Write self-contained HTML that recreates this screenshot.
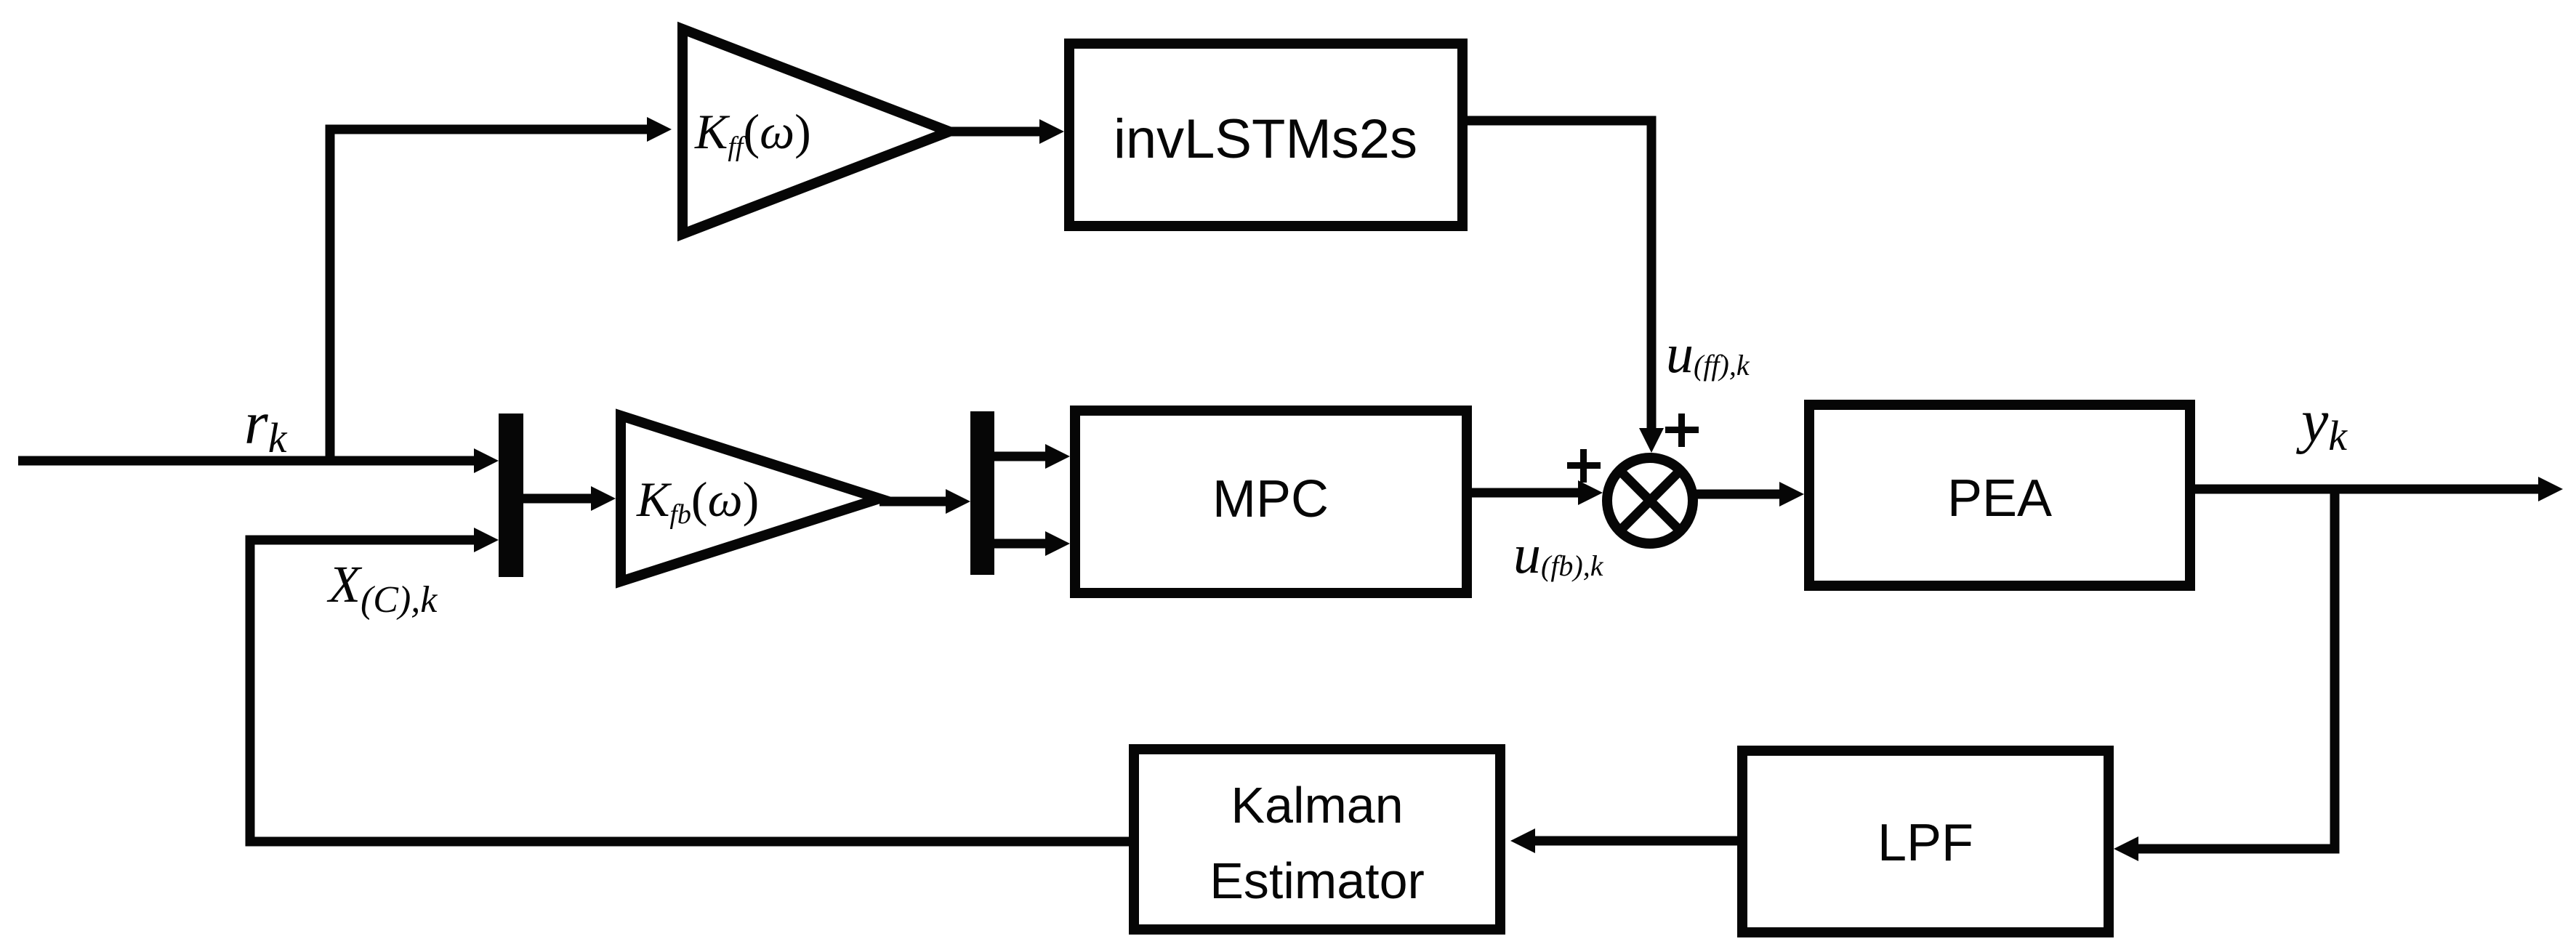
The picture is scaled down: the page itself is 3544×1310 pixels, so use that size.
<!DOCTYPE html>
<html><head><meta charset="utf-8"><style>
html,body{margin:0;padding:0;background:#fff;}
svg{display:block;}
.box{fill:none;stroke:#060606;stroke-width:14;}
.ln{fill:none;stroke:#060606;stroke-width:13;}
.sans{font-family:"Liberation Sans",sans-serif;fill:#060606;}
.m{font-family:"Liberation Serif",serif;font-style:italic;fill:#060606;}
</style></head><body>
<svg width="3544" height="1310" viewBox="0 0 3544 1310" xmlns="http://www.w3.org/2000/svg">
<g fill="#060606">
<line class="ln" x1="25" y1="634" x2="655" y2="634"/>
<polygon points="686,634 652,617 652,651"/>
<path class="ln" d="M454,640 V178 H895"/>
<polygon points="924,178 890,161 890,195"/>
<polygon class="box" points="939,40 939,322 1306,181"/>
<line class="ln" x1="1306" y1="181" x2="1435" y2="181"/>
<polygon points="1464,181 1430,164 1430,198"/>
<rect class="box" x="1471" y="60" width="541" height="251"/>
<path class="ln" d="M2019,166 H2272 V592"/>
<polygon points="2272,623 2255,589 2289,589"/>
<rect x="686" y="569" width="34" height="225"/>
<line class="ln" x1="720" y1="686" x2="815" y2="686"/>
<polygon points="847,686 813,669 813,703"/>
<polygon class="box" points="854,572 854,800 1210,686"/>
<line class="ln" x1="1210" y1="690" x2="1305" y2="690"/>
<polygon points="1335,690 1301,673 1301,707"/>
<rect x="1335" y="566" width="33" height="225"/>
<line class="ln" x1="1368" y1="628" x2="1442" y2="628"/>
<polygon points="1472,628 1438,611 1438,645"/>
<line class="ln" x1="1368" y1="748" x2="1442" y2="748"/>
<polygon points="1472,748 1438,731 1438,765"/>
<rect class="box" x="1479" y="565" width="539" height="251"/>
<line class="ln" x1="2025" y1="678" x2="2175" y2="678"/>
<polygon points="2205,678 2171,661 2171,695"/>
<circle class="box" cx="2270" cy="689" r="59" stroke-width="12"/>
<line class="ln" x1="2228" y1="647" x2="2312" y2="731" stroke-width="11"/>
<line class="ln" x1="2312" y1="647" x2="2228" y2="731" stroke-width="11"/>
<line class="ln" x1="2330" y1="680" x2="2452" y2="680"/>
<polygon points="2482,680 2448,663 2448,697"/>
<rect class="box" x="2489" y="557" width="524" height="249"/>
<line class="ln" x1="3020" y1="673" x2="3495" y2="673"/>
<polygon points="3526,673 3492,656 3492,690"/>
<path class="ln" d="M3212,673 V1168 H2938"/>
<polygon points="2908,1168 2942,1151 2942,1185"/>
<rect class="box" x="2397" y="1033" width="504" height="250"/>
<line class="ln" x1="2390" y1="1157" x2="2110" y2="1157"/>
<polygon points="2078,1157 2112,1140 2112,1174"/>
<rect class="box" x="1560" y="1031" width="504" height="248"/>
<path class="ln" d="M1553,1158 H344 V743 H655"/>
<polygon points="686,743 652,726 652,760"/>
</g>
<text class="sans" x="1741" y="217" font-size="76" text-anchor="middle">invLSTMs2s</text>
<text class="sans" x="1748" y="711" font-size="72" text-anchor="middle">MPC</text>
<text class="sans" x="2751" y="710" font-size="72" text-anchor="middle">PEA</text>
<text class="sans" x="2649" y="1184" font-size="72" text-anchor="middle">LPF</text>
<text class="sans" x="1812" y="1132" font-size="70" text-anchor="middle">Kalman</text>
<text class="sans" x="1812" y="1236" font-size="70" text-anchor="middle">Estimator</text>
<text class="m" x="956" y="204" font-size="68">K<tspan font-size="38" dy="10">ff</tspan><tspan dy="-10" font-style="normal">(</tspan>ω<tspan font-style="normal">)</tspan></text>
<text class="m" x="876" y="710" font-size="68">K<tspan font-size="38" dy="10">fb</tspan><tspan dy="-10" font-style="normal">(</tspan>ω<tspan font-style="normal">)</tspan></text>
<text class="m" x="336" y="610" font-size="84">r<tspan font-size="58" dy="12">k</tspan></text>
<text class="m" x="3166" y="607" font-size="84">y<tspan font-size="58" dy="12">k</tspan></text>
<text class="m" x="452" y="828" font-size="72">X<tspan font-size="52" dy="14">(C),k</tspan></text>
<text class="m" x="2292" y="512" font-size="76">u<tspan font-size="40" dy="4">(ff),k</tspan></text>
<text class="m" x="2082" y="788" font-size="76">u<tspan font-size="40" dy="4">(fb),k</tspan></text>
<g fill="#060606">
<rect x="2156" y="636" width="46" height="9"/><rect x="2174" y="618" width="9" height="46"/>
<rect x="2291" y="587" width="46" height="9"/><rect x="2309" y="569" width="9" height="46"/>
</g>
</svg>
</body></html>
